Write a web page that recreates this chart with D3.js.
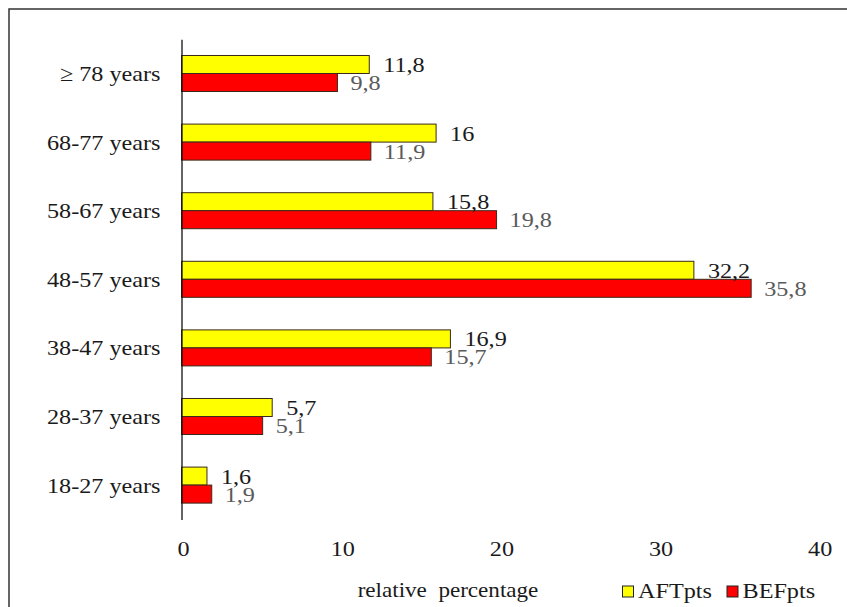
<!DOCTYPE html>
<html>
<head>
<meta charset="utf-8">
<script src="https://cdn.jsdelivr.net/npm/d3@7/dist/d3.min.js"></script>
<style>
  html, body { margin: 0; padding: 0; background: #fff; }
  svg { display: block; }
  text { font-family: "Liberation Serif", "Times New Roman", serif; }
</style>
</head>
<body>
<svg id="chart" width="847" height="607"></svg>
<script>
// Age groups, top to bottom
const categories = ["\u2265 78 years", "68-77 years", "58-67 years", "48-57 years", "38-47 years", "28-37 years", "18-27 years"];
// Relative percentage per age group
const aftValues = [11.8, 16, 15.8, 32.2, 16.9, 5.7, 1.6];
const befValues = [9.8, 11.9, 19.8, 35.8, 15.7, 5.1, 1.9];
const seriesNames = ["AFTpts", "BEFpts"];
const seriesColors = ["#ffff00", "#ff0000"];
const xTicks = [0, 10, 20, 30, 40];
const xTitle = "relative  percentage";

const svg = d3.select("#chart");
const W = 847, H = 607;
const stretch = 1.1; // horizontal widening applied to all text

// Outer frame
svg.append("rect")
  .attr("x", 9).attr("y", 9)
  .attr("width", W).attr("height", H)
  .attr("fill", "#fff")
  .attr("stroke", "#333").attr("stroke-width", 1.5);

const x = d3.scaleLinear().domain([0, 40]).range([181.5, 818]);
const y = d3.scaleBand().domain(categories)
  .range([39.2, 519.4])
  .paddingInner(0.475)
  .paddingOuter(0.2375);
const ySub = d3.scaleBand().domain(seriesNames).range([0, y.bandwidth()]);

const rows = categories.map((c, i) => ({ cat: c, vals: [aftValues[i], befValues[i]] }));
const fmt = v => String(v).replace(".", ",");

// Bars
const groups = svg.append("g").selectAll("g")
  .data(rows).join("g")
  .attr("transform", d => `translate(0,${y(d.cat)})`);

groups.selectAll("rect")
  .data(d => d.vals.map((v, k) => ({ v, k })))
  .join("rect")
  .attr("x", x(0))
  .attr("y", d => ySub(seriesNames[d.k]))
  .attr("width", d => x(d.v) - x(0))
  .attr("height", ySub.bandwidth())
  .attr("fill", d => seriesColors[d.k])
  .attr("stroke", "#3a2a1a")
  .attr("stroke-width", 1);

// Value labels
groups.selectAll("text.val")
  .data(d => d.vals.map((v, k) => ({ v, k })))
  .join("text")
  .attr("class", "val")
  .attr("transform", d => `translate(${x(d.v) + (d.k === 0 ? 14 : 13)},${ySub(seriesNames[d.k]) + ySub.bandwidth() / 2 + 7.5}) scale(${stretch},1)`)
  .attr("font-size", 22)
  .attr("fill", d => d.k === 0 ? "#1a1a1a" : "#5a5a5a")
  .text(d => fmt(d.v));

// Category axis
const yAxis = svg.append("g")
  .attr("transform", `translate(${x(0)},0)`)
  .call(d3.axisLeft(y).tickSize(0).tickSizeOuter(0));
yAxis.select(".domain").attr("stroke", "#111").attr("stroke-width", 1.3);
yAxis.selectAll(".tick text")
  .attr("font-size", 22)
  .attr("fill", "#1a1a1a")
  .attr("font-family", "Liberation Serif, Times New Roman, serif")
  .attr("x", -21 / stretch)
  .attr("dy", "0.34em")
  .attr("transform", `scale(${stretch},1)`);

// Value axis (labels only)
const xAxis = svg.append("g")
  .attr("transform", "translate(0,519.5)")
  .call(d3.axisBottom(x).tickValues(xTicks).tickSize(0).tickPadding(21));
xAxis.select(".domain").remove();
xAxis.selectAll(".tick text")
  .attr("font-size", 22)
  .attr("fill", "#1a1a1a")
  .attr("font-family", "Liberation Serif, Times New Roman, serif")
  .attr("dx", 1.5)
  .attr("transform", `scale(${stretch},1)`);

// Axis title
svg.append("text")
  .attr("transform", `translate(448,597) scale(${stretch},1)`)
  .attr("text-anchor", "middle")
  .attr("font-size", 21)
  .attr("fill", "#1a1a1a")
  .style("white-space", "pre")
  .text(xTitle);

// Legend
const legendX = [622.5, 727];
const legend = svg.append("g").selectAll("g")
  .data(seriesNames).join("g")
  .attr("transform", (d, i) => `translate(${legendX[i]},586)`);
legend.append("rect")
  .attr("width", 11).attr("height", 11)
  .attr("fill", (d, i) => seriesColors[i])
  .attr("stroke", "#222").attr("stroke-width", 1);
legend.append("text")
  .attr("transform", `translate(15.5,11.5) scale(${stretch},1)`)
  .attr("font-size", 22)
  .attr("fill", "#1a1a1a")
  .text(d => d);
</script>
</body>
</html>
